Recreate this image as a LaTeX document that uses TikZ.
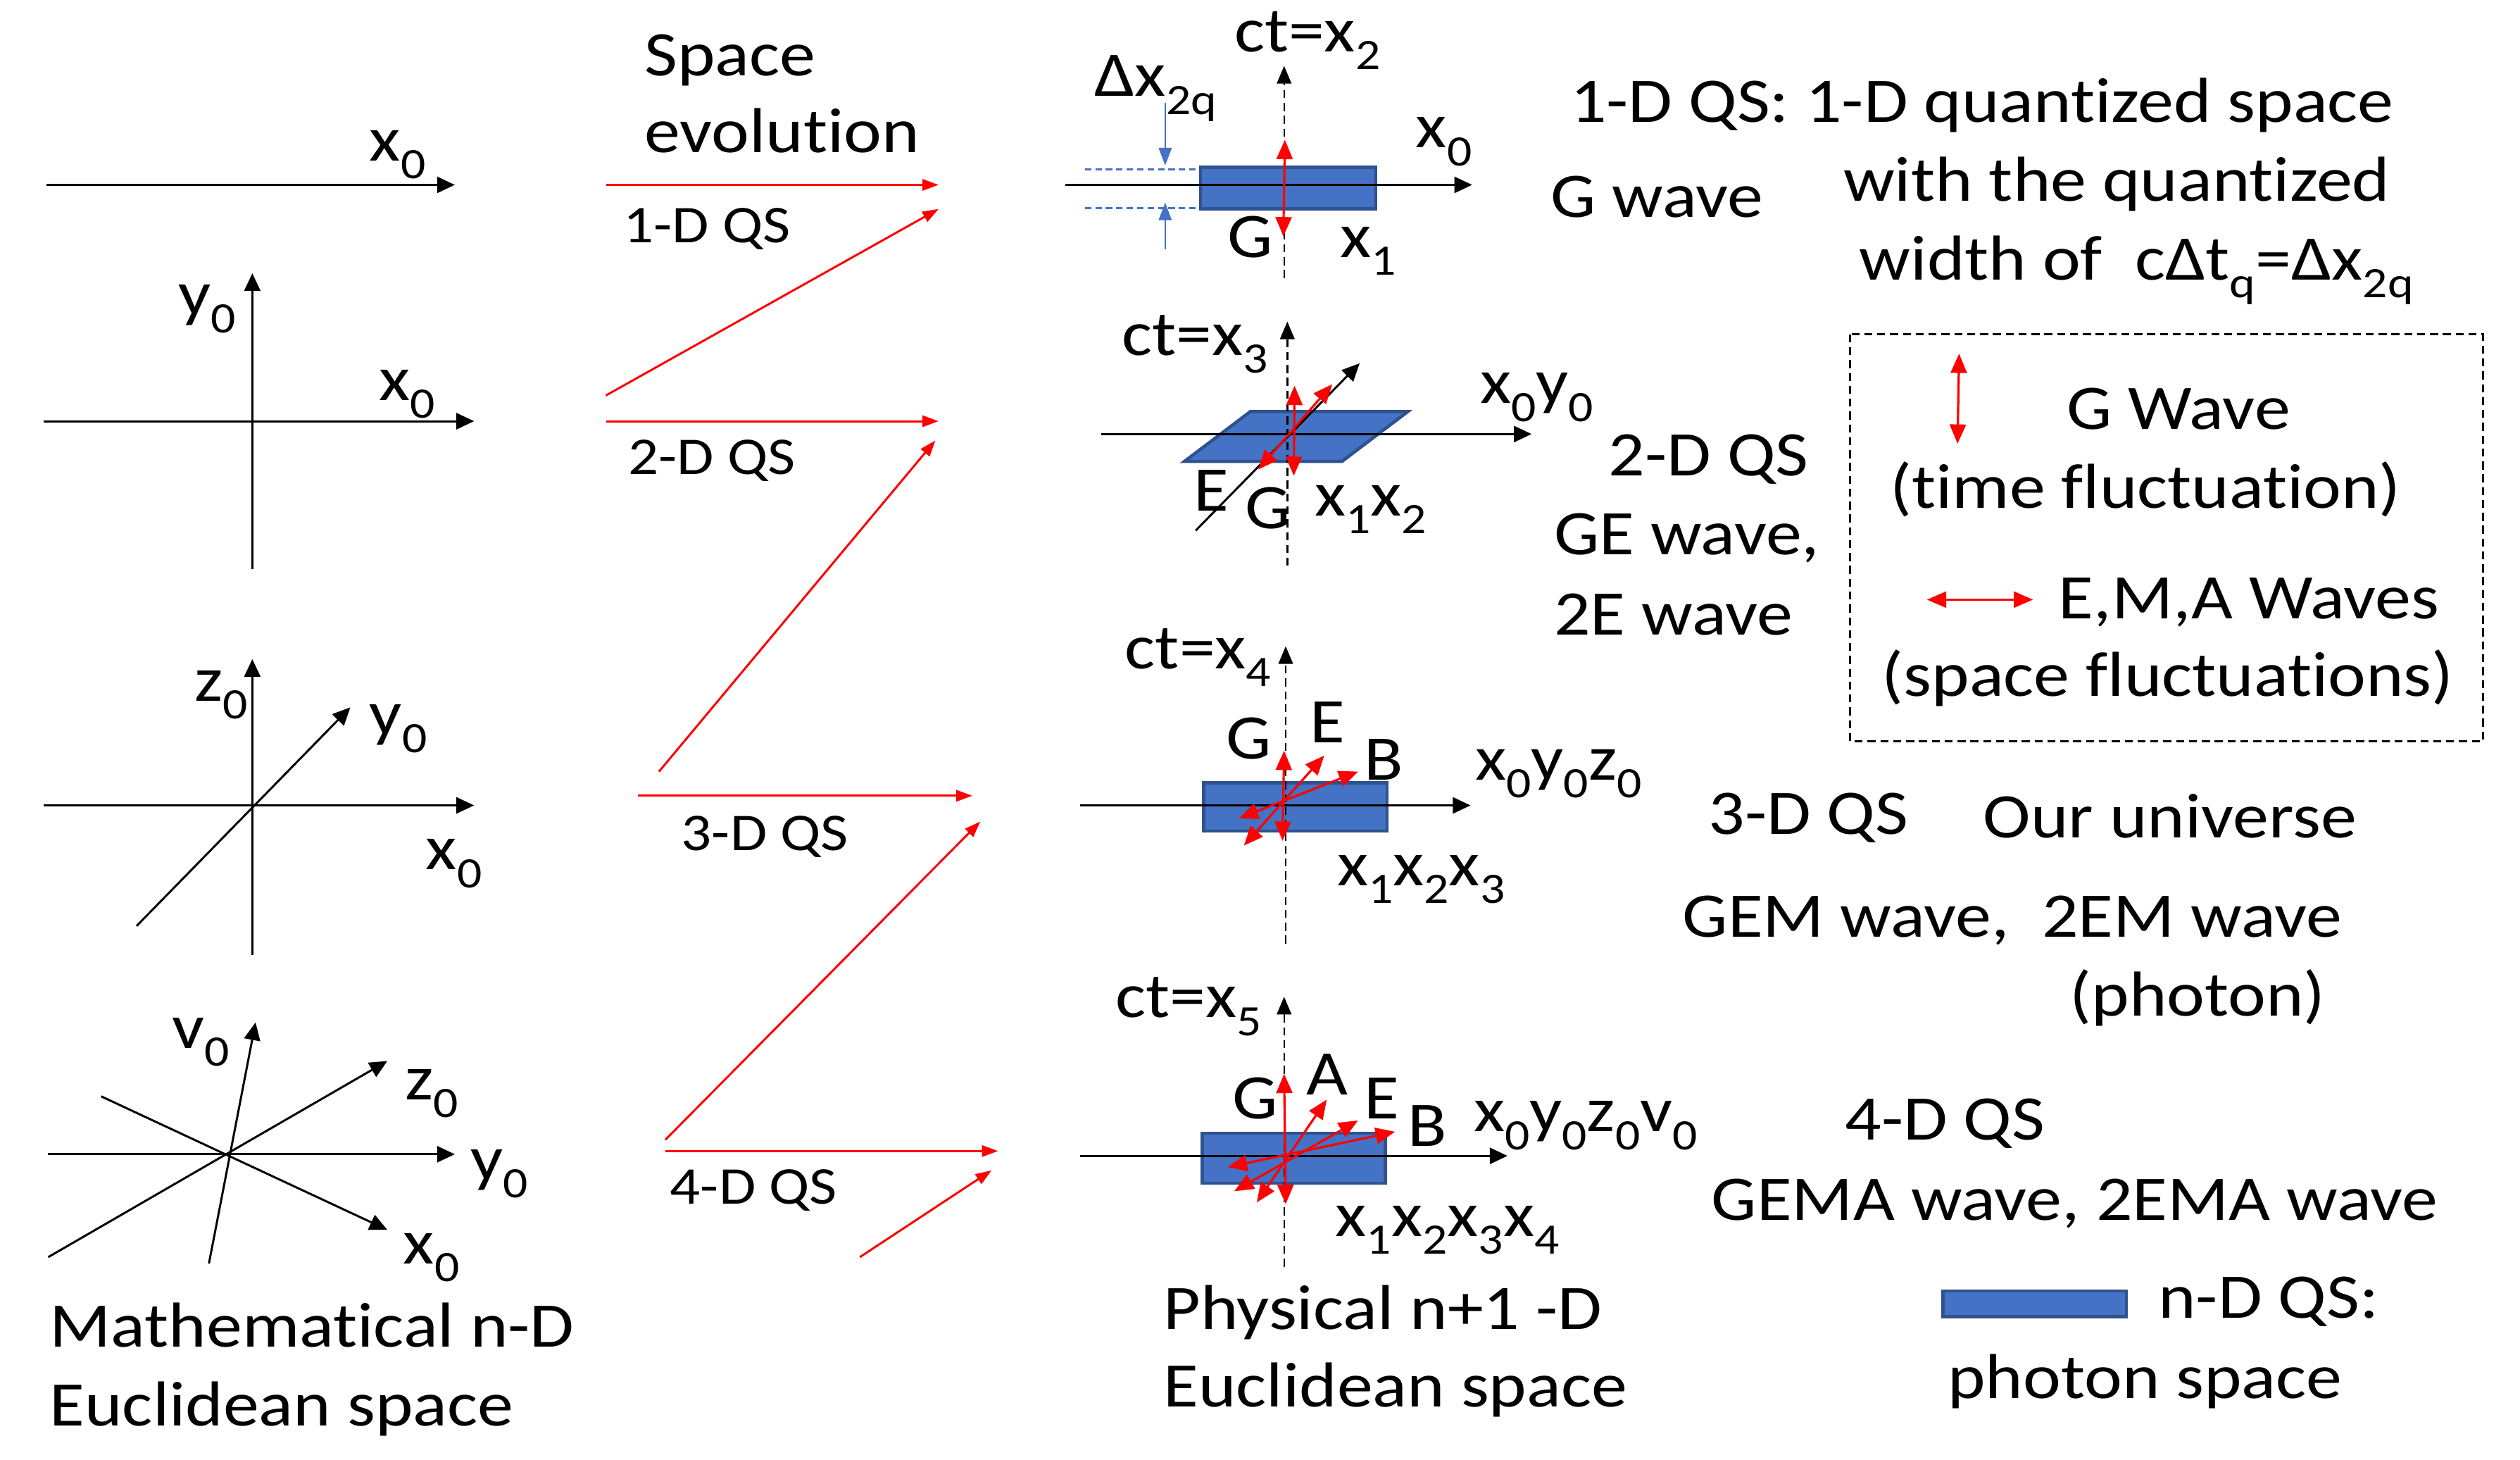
\documentclass[tikz,border=0pt]{standalone}
\usepackage{fontspec}
\setmainfont[FakeStretch=1.13,Ligatures=NoCommon]{Carlito}
\usetikzlibrary{arrows.meta}
\newcommand{\lowidx}[1]{\raisebox{-0.28em}{\fontsize{27}{27}\selectfont #1}}
\definecolor{qsfill}{HTML}{4472C4}
\definecolor{qsline}{HTML}{2F528F}
\tikzset{
  txt/.style={anchor=base west,inner sep=0pt,outer sep=0pt,font=\fontsize{39.5}{43}\selectfont},
  small/.style={anchor=base west,inner sep=0pt,outer sep=0pt,font=\fontsize{33}{37}\selectfont},
  axisline/.style={line width=1.3pt,-{Triangle[length=11pt,width=10pt]}},
  timeaxis/.style={line width=1.1pt,dash pattern=on 5pt off 3pt,-{Triangle[length=11pt,width=9pt]}},
  evolve/.style={red,line width=1.3pt,-{Triangle[length=10pt,width=7pt]}},
  wave/.style={red,line width=1.4pt,{Triangle[length=12pt,width=10pt]}-{Triangle[length=12pt,width=10pt]}},
  qsbox/.style={draw=qsline,fill=qsfill,line width=2pt},
  qdash/.style={qsfill,line width=1.2pt,dash pattern=on 4pt off 2.5pt},
  qarrow/.style={qsfill,line width=1.1pt,-{Triangle[length=11pt,width=8pt]}},
  keybox/.style={line width=1.3pt,dash pattern=on 5pt off 3pt}
}
\begin{document}
\begin{tikzpicture}[x=1pt,y=-1pt]
  \useasboundingbox (0,0) rectangle (1568,908);

  \coordinate (aL) at (29,115);
  \coordinate (aR) at (283,115);
  \draw[axisline] (aL) -- (aR);
  \node[txt] (aX) at (230,100) {x\lowidx{0}};

  \coordinate (bL) at (27,262);
  \coordinate (bR) at (295,262);
  \coordinate (bD) at (157,354);
  \coordinate (bU) at (157,170);
  \draw[axisline] (bL) -- (bR);
  \draw[axisline] (bD) -- (bU);
  \node[txt] (bY) at (111,196) {y\lowidx{0}};
  \node[txt] (bX) at (236,249) {x\lowidx{0}};

  \coordinate (cL) at (27,501);
  \coordinate (cR) at (295,501);
  \coordinate (cD) at (157,594);
  \coordinate (cU) at (157,410);
  \coordinate (cA) at (85,576);
  \coordinate (cB) at (218,440);
  \draw[axisline] (cL) -- (cR);
  \draw[axisline] (cD) -- (cU);
  \draw[axisline] (cA) -- (cB);
  \node[txt] (cZ) at (121,436) {z\lowidx{0}};
  \node[txt] (cY) at (230,457) {y\lowidx{0}};
  \node[txt] (cX) at (265,541) {x\lowidx{0}};

  \coordinate (dL) at (30,718);
  \coordinate (dR) at (283,718);
  \coordinate (dVa) at (130,786);
  \coordinate (dVb) at (159,636);
  \coordinate (dZa) at (30,782);
  \coordinate (dZb) at (241,660);
  \coordinate (dXa) at (63,682);
  \coordinate (dXb) at (241,765);
  \draw[axisline] (dL) -- (dR);
  \draw[axisline] (dVa) -- (dVb);
  \draw[axisline] (dZa) -- (dZb);
  \draw[axisline] (dXa) -- (dXb);
  \node[txt] (dV) at (107,652) {v\lowidx{0}};
  \node[txt] (dZ) at (252,684) {z\lowidx{0}};
  \node[txt] (dY) at (293,734) {y\lowidx{0}};
  \node[txt] (dX) at (251,786) {x\lowidx{0}};
  \node[txt] (mathA) at (31,838) {Mathematical n-D};
  \node[txt] (mathB) at (31,887) {Euclidean space};

  \node[txt] (spaceA) at (401,47) {Space};
  \node[txt] (spaceB) at (401,95) {evolution};
  \coordinate (ra1) at (377,115);
  \coordinate (ra2) at (584,115);
  \coordinate (rb1) at (377,246);
  \coordinate (rb2) at (584,130);
  \coordinate (rc1) at (377,262);
  \coordinate (rc2) at (584,262);
  \coordinate (rd1) at (410,480);
  \coordinate (rd2) at (582,274);
  \coordinate (re1) at (397,495);
  \coordinate (re2) at (605,495);
  \coordinate (rf1) at (414,709);
  \coordinate (rf2) at (610,511);
  \coordinate (rg1) at (414,716);
  \coordinate (rg2) at (621,716);
  \coordinate (rh1) at (535,782);
  \coordinate (rh2) at (617,728);
  \foreach \p in {a,b,c,d,e,f,g,h}
    \draw[evolve] (r\p1) -- (r\p2);
  \node[small] (qsA) at (388,151) {1-D QS};
  \node[small] (qsB) at (391,295) {2-D QS};
  \node[small] (qsC) at (424,529) {3-D QS};
  \node[small] (qsD) at (417,749) {4-D QS};

  \draw[qsbox] (747,104) rectangle (856,130);
  \coordinate (eL) at (663,115);
  \coordinate (eR) at (916,115);
  \coordinate (eD) at (799,173);
  \coordinate (eU) at (799,41);
  \coordinate (eGa) at (799.5,87);
  \coordinate (eGb) at (798.5,147);
  \coordinate (qa) at (675,105.5);
  \coordinate (qb) at (744,105.5);
  \coordinate (qc) at (675,129.5);
  \coordinate (qd) at (744,129.5);
  \coordinate (qe) at (725,64);
  \coordinate (qf) at (725,103);
  \coordinate (qg) at (725,155);
  \coordinate (qh) at (725,126);
  \draw[qdash] (qa) -- (qb);
  \draw[qdash] (qc) -- (qd);
  \draw[qarrow] (qe) -- (qf);
  \draw[qarrow] (qg) -- (qh);
  \draw[axisline] (eL) -- (eR);
  \draw[timeaxis] (eD) -- (eU);
  \draw[wave] (eGb) -- (eGa);
  \node[txt] (eT) at (768,32) {ct=x\lowidx{2}};
  \node[txt] (eQ) at (681,60) {Δx\lowidx{2q}};
  \node[txt] (eX) at (881,92) {x\lowidx{0}};
  \node[txt] (eG) at (764,160) {G};
  \node[txt] (eY) at (834,160) {x\lowidx{1}};

  \draw[qsbox] (778,256) -- (876,256) -- (835,287) -- (737,287) -- cycle;
  \coordinate (fL) at (685,270);
  \coordinate (fR) at (953,270);
  \coordinate (fD) at (801,352);
  \coordinate (fU) at (801,200);
  \coordinate (fA) at (744,330);
  \coordinate (fB) at (846,226);
  \coordinate (fGa) at (805.5,240);
  \coordinate (fGb) at (805,296);
  \coordinate (fEa) at (829,239);
  \coordinate (fEb) at (783,292);
  \draw[axisline] (fL) -- (fR);
  \draw[timeaxis] (fD) -- (fU);
  \draw[axisline] (fA) -- (fB);
  \draw[wave] (fGb) -- (fGa);
  \draw[wave] (fEb) -- (fEa);
  \node[txt] (fT) at (698,221) {ct=x\lowidx{3}};
  \node[txt] (fX) at (921,251) {x\lowidx{0}y\lowidx{0}};
  \node[txt] (fE) at (743,318) {E};
  \node[txt] (fG) at (775,329) {G};
  \node[txt] (fY) at (818,321) {x\lowidx{1}x\lowidx{2}};

  \draw[qsbox] (749,487) rectangle (863,517);
  \coordinate (gL) at (672,501);
  \coordinate (gR) at (915,501);
  \coordinate (gD) at (800,587);
  \coordinate (gU) at (800,402);
  \coordinate (gGa) at (799,467);
  \coordinate (gGb) at (798,523);
  \coordinate (gEa) at (824,470);
  \coordinate (gEb) at (774,526);
  \coordinate (gBa) at (845,480);
  \coordinate (gBb) at (771,509);
  \draw[axisline] (gL) -- (gR);
  \draw[timeaxis] (gD) -- (gU);
  \draw[wave] (gGb) -- (gGa);
  \draw[wave] (gEb) -- (gEa);
  \draw[wave] (gBb) -- (gBa);
  \node[txt] (gT) at (700,416) {ct=x\lowidx{4}};
  \node[txt] (gX) at (918,485) {x\lowidx{0}y\lowidx{0}z\lowidx{0}};
  \node[txt] (gG) at (763,472) {G};
  \node[txt] (gE) at (815,462) {E};
  \node[txt] (gB) at (849,485) {B};
  \node[txt] (gY) at (832,551) {x\lowidx{1}x\lowidx{2}x\lowidx{3}};

  \draw[qsbox] (748,705) rectangle (862,736);
  \coordinate (hL) at (672,719);
  \coordinate (hR) at (938,719);
  \coordinate (hD) at (799,788);
  \coordinate (hU) at (799,620);
  \coordinate (hGa) at (799,668);
  \coordinate (hGb) at (800,749);
  \coordinate (hAa) at (825.5,684);
  \coordinate (hAb) at (782,748);
  \coordinate (hEa) at (845,697);
  \coordinate (hEb) at (768,741);
  \coordinate (hBa) at (868,704);
  \coordinate (hBb) at (764,726);
  \draw[axisline] (hL) -- (hR);
  \draw[timeaxis] (hD) -- (hU);
  \draw[wave] (hGb) -- (hGa);
  \draw[wave] (hAb) -- (hAa);
  \draw[wave] (hEb) -- (hEa);
  \draw[wave] (hBb) -- (hBa);
  \node[txt] (hT) at (694,633) {ct=x\lowidx{5}};
  \node[txt] (hX) at (917,704) {x\lowidx{0}y\lowidx{0}z\lowidx{0}v\lowidx{0}};
  \node[txt] (hG) at (767,696) {G};
  \node[txt] (hA) at (813,681) {A};
  \node[txt] (hE) at (849,696) {E};
  \node[txt] (hB) at (876,713) {B};
  \node[txt] (hY) at (831,769) {x\lowidx{1}x\lowidx{2}x\lowidx{3}x\lowidx{4}};
  \node[txt] (physA) at (724,827) {Physical n+1 -D};
  \node[txt] (physB) at (724,875) {Euclidean space};

  \node[txt] (oneA) at (977,76) {1-D QS: 1-D quantized space};
  \node[txt] (oneB) at (965,135) {G wave};
  \node[txt] (oneC) at (1147,125) {with the quantized};
  \node[txt] (oneD) at (1157,174) {width of\ \ cΔt\lowidx{q}=Δx\lowidx{2q}};

  \draw[keybox] (1151,208) rectangle (1545,461);
  \coordinate (keyGa) at (1219,220);
  \coordinate (keyGb) at (1218,276);
  \coordinate (keyEa) at (1199,373);
  \coordinate (keyEb) at (1265,373);
  \draw[wave] (keyGa) -- (keyGb);
  \draw[wave] (keyEa) -- (keyEb);
  \node[txt] (keyA) at (1286,267) {G Wave};
  \node[txt] (keyB) at (1176,316) {(time fluctuation)};
  \node[txt] (keyC) at (1281,385) {E,M,A Waves};
  \node[txt] (keyD) at (1171,433) {(space fluctuations)};

  \node[txt] (twoA) at (1001,296) {2-D QS};
  \node[txt] (twoB) at (967,345) {GE wave,};
  \node[txt] (twoC) at (967,395) {2E wave};

  \node[txt] (threeA) at (1063,519) {3-D QS};
  \node[txt] (threeB) at (1234,521) {Our universe};
  \node[txt] (threeC) at (1047,583) {GEM wave,\ \ 2EM wave};
  \node[txt] (threeD) at (1288,632) {(photon)};

  \node[txt] (fourA) at (1148,709) {4-D QS};
  \node[txt] (fourB) at (1065,759) {GEMA wave, 2EMA wave};
  \draw[qsbox] (1209,803) rectangle (1323,819);
  \node[txt] (fourC) at (1343,820) {n-D QS:};
  \node[txt] (fourD) at (1212,870) {photon space};
\end{tikzpicture}
\end{document}
